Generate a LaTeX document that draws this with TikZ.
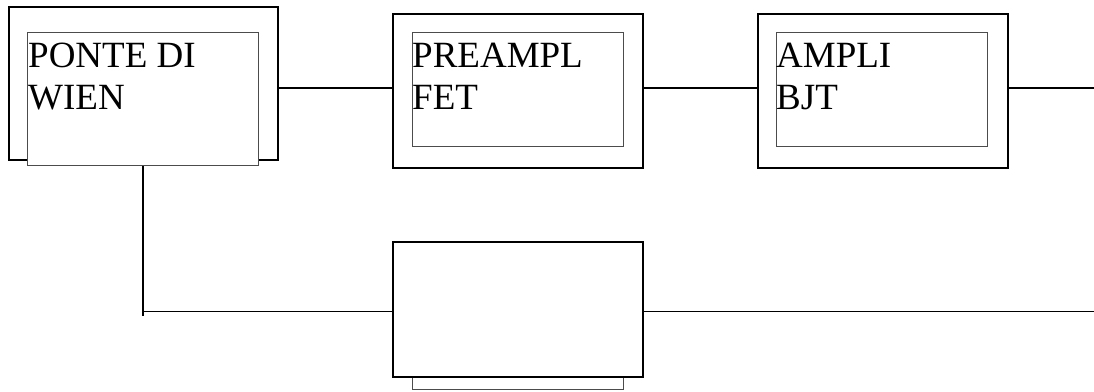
\documentclass[tikz,border=0pt]{standalone}
\usepackage{fontspec}
\setmainfont{Liberation Serif}
\begin{document}
\begin{tikzpicture}[x=1pt,y=-1pt,
  outerbox/.style={draw=black,line width=1.9pt,fill=white,anchor=north west,inner sep=0pt},
  innerbox/.style={draw=black!70,line width=1pt,fill=white,anchor=north west,inner sep=0pt},
  label/.style={anchor=north west,inner sep=0pt,align=left,font=\fontsize{37}{42}\selectfont},
  wire/.style={draw=black,line width=1.9pt}]
\useasboundingbox (0,0) rectangle (1094,391);

% Wien bridge block
\node[outerbox,minimum width=269pt,minimum height=153pt] (wien) at (8,6) {};
\node[innerbox,minimum width=231pt,minimum height=133pt] (wienin) at (27,32) {};
\node[label] (wient) at (28,42.5) {PONTE DI\\WIEN};

% FET preamplifier block
\node[outerbox,minimum width=250pt,minimum height=154pt] (pre) at (392,13) {};
\node[innerbox,minimum width=211pt,minimum height=114pt] (prein) at (412,32) {};
\node[label] (pret) at (412,42.5) {PREAMPL\\FET};

% BJT amplifier block
\node[outerbox,minimum width=250pt,minimum height=154pt] (amp) at (757,13) {};
\node[innerbox,minimum width=211pt,minimum height=114pt] (ampin) at (776,32) {};
\node[label] (ampt) at (776,42.5) {AMPLI\\BJT};

% Lower block, its inner frame peeking out beneath
\node[innerbox,minimum width=211pt,minimum height=130pt] (lowin) at (412,259) {};
\node[outerbox,minimum width=250pt,minimum height=135pt] (low) at (392,241) {};

% Connection points
\coordinate (tee) at (143,316);
\coordinate (join) at (143,311.5);
\coordinate (out1) at (1094,88);
\coordinate (out2) at (1094,311.5);

% Wiring
\draw[wire] (wien.east |- out1) -- (pre.west |- out1);
\draw[wire] (pre.east |- out1) -- (amp.west |- out1);
\draw[wire] (amp.east |- out1) -- (out1);
\draw[wire] (wienin.south) -- (tee);
\draw[wire] (join) -- (low.west |- join);
\draw[wire] (low.east |- out2) -- (out2);
\end{tikzpicture}
\end{document}
